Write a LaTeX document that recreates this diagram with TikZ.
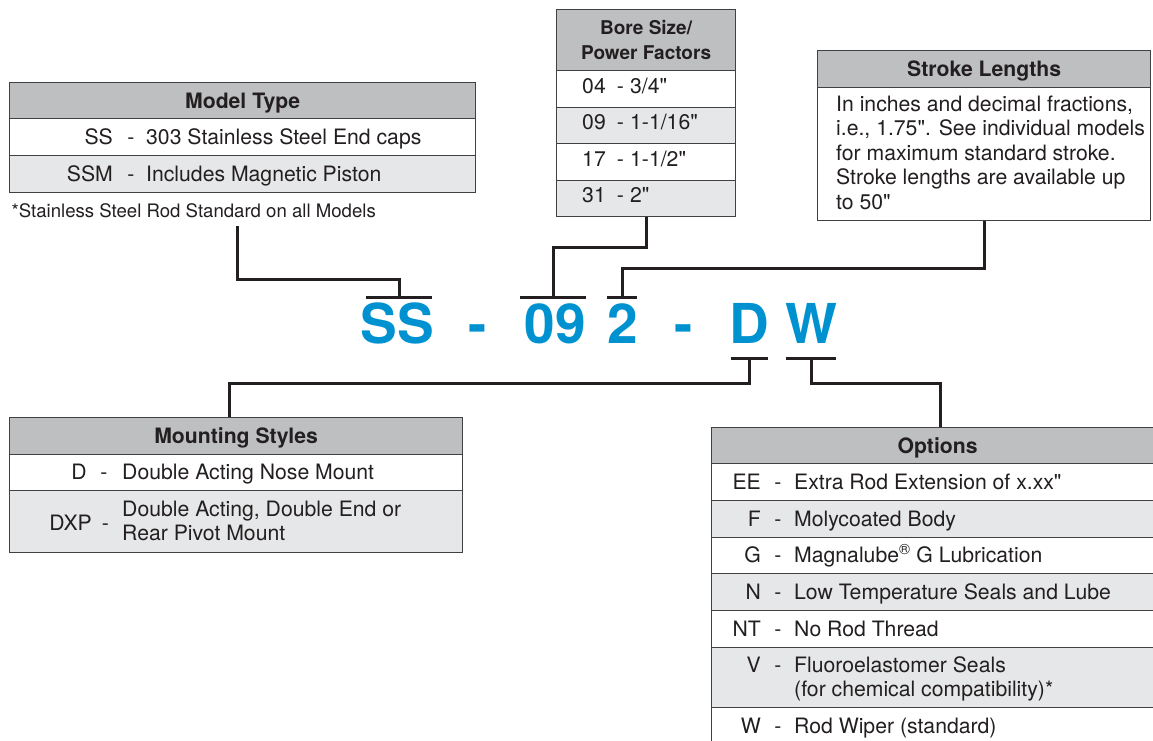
\documentclass[tikz,border=0pt]{standalone}
\usepackage{fontspec}
\setmainfont{TeX Gyre Heros}[Ligatures=TeXOff]
\usepackage{xcolor}
\usepackage{tikz}
\usetikzlibrary{positioning,calc}

\definecolor{hdrgray}{RGB}{190,191,193}
\definecolor{rowgray}{RGB}{230,231,232}
\definecolor{boxline}{RGB}{65,64,66}
\definecolor{ink}{RGB}{35,31,32}
\definecolor{linecol}{RGB}{35,31,32}
\definecolor{codeblue}{RGB}{0,146,208}

\newcommand{\bodyfont}{\fontsize{21.2}{24.5}\selectfont}
\newcommand{\notefont}{\fontsize{18.6}{22}\selectfont}
\newcommand{\borefont}{\fontsize{19}{24.5}\selectfont\bfseries}
\newcommand{\codefont}{\fontsize{55}{55}\selectfont\bfseries}

\begin{document}
\begin{tikzpicture}[
    x=1pt, y=-1pt,
    every node/.style={inner sep=0pt, text=ink, font=\bodyfont},
    hdr/.style={rectangle, draw=boxline, fill=hdrgray, line width=1.2pt, anchor=north west, font=\bodyfont\bfseries, text height=15.2pt, text depth=0pt},
    rowA/.style={rectangle, draw=boxline, fill=white, line width=1.2pt, anchor=north west},
    rowB/.style={rowA, fill=rowgray},
    desc/.style={anchor=base west},
    code/.style={anchor=base east},
    sep/.style={anchor=base},
    letter/.style={anchor=base, text=codeblue, font=\codefont},
    link/.style={draw=linecol, line width=3pt}
]
\useasboundingbox (0,0) rectangle (1153,740);

% Model type
\node[hdr, minimum width=466, minimum height=36] (model) at (9,82) {Model Type};
\node[rowA, minimum width=466, minimum height=37] (m1) at (9,118) {};
\node[rowB, minimum width=466, minimum height=37] (m2) at (9,155) {};
\node[code] (m1c) at (113,144) {SS};
\node[sep] (m1d) at (131,144) {-};
\node[desc] (m1t) at (146,144) {303 Stainless Steel End caps};
\node[code] (m2c) at (113,181) {SSM};
\node[sep] (m2d) at (131,181) {-};
\node[desc] (m2t) at (146,181) {Includes Magnetic Piston};
\node[anchor=base east, font=\notefont] (note) at (376,217) {*Stainless Steel Rod Standard on all Models};

% Bore size
\node[hdr, minimum width=179, minimum height=61, font=\borefont, align=center, text height=, text depth=] (bore) at (556,9) {Bore Size/\\Power Factors};
\node[rowA, minimum width=179, minimum height=36.5] (bo1) at (556,70) {};
\node[rowB, minimum width=179, minimum height=36.5] (bo2) at (556,106.5) {};
\node[rowA, minimum width=179, minimum height=36.5] (bo3) at (556,143) {};
\node[rowB, minimum width=179, minimum height=36.5] (bo4) at (556,179.5) {};
\node[code] (bo1c) at (606,93) {04};
\node[sep] (bo1d) at (620.5,93) {-};
\node[desc] (bo1t) at (630,93) {3/4"};
\node[code] (bo2c) at (606,129.5) {09};
\node[sep] (bo2d) at (620.5,129.5) {-};
\node[desc] (bo2t) at (630,129.5) {1-1/16"};
\node[code] (bo3c) at (606,166) {17};
\node[sep] (bo3d) at (620.5,166) {-};
\node[desc] (bo3t) at (630,166) {1-1/2"};
\node[code] (bo4c) at (606,202.5) {31};
\node[sep] (bo4d) at (620.5,202.5) {-};
\node[desc] (bo4t) at (630,202.5) {2"};

% Stroke lengths
\node[hdr, minimum width=333, minimum height=37] (strokehdr) at (817,50) {Stroke Lengths};
\node[rowA, minimum width=333, minimum height=133] (stroke) at (817,87) {};
\node[desc] (st1) at (836,111) {In inches and decimal fractions,};
\node[desc] (st2) at (836,135.6) {i.e., 1.75". See individual models};
\node[desc] (st3) at (836,160.2) {for maximum standard stroke.};
\node[desc] (st4) at (836,184.8) {Stroke lengths are available up};
\node[desc] (st5) at (836,209.4) {to 50"};

% Part number
\node[letter] (cSS) at (397.5,343) {SS};
\node[letter] (cd1) at (478,343) {-};
\node[letter] (c09) at (555,343) {09};
\node[letter] (c2) at (622.5,343) {2};
\node[letter] (cd2) at (684,343) {-};
\node[letter] (cD) at (749,343) {D};
\node[letter] (cW) at (811.5,343) {W};

\coordinate (barSS) at (399,297);
\coordinate (bar09) at (553,297);
\coordinate (bar2) at (622,297);
\coordinate (barD) at (749,358);
\coordinate (barW) at (811,358);
\coordinate (notelink) at (237,226);

% Mounting styles
\node[hdr, minimum width=453, minimum height=37] (mount) at (9,417) {Mounting Styles};
\node[rowA, minimum width=453, minimum height=36] (mo1) at (9,454) {};
\node[rowB, minimum width=453, minimum height=62] (mo2) at (9,490) {};
\node[code] (mo1c) at (87,479.5) {D};
\node[sep] (mo1d) at (104,479.5) {-};
\node[desc] (mo1t) at (122,479.5) {Double Acting Nose Mount};
\node[code] (mo2c) at (92,530) {DXP};
\node[sep] (mo2d) at (105.5,530) {-};
\node[desc] (mo2t) at (122,516) {Double Acting, Double End or};
\node[desc] (mo2u) at (122,540) {Rear Pivot Mount};

% Options
\node[hdr, minimum width=452, minimum height=36] (opts) at (711,427) {Options};
\node[rowA, minimum width=452, minimum height=37] (o1) at (711,463) {};
\node[rowB, minimum width=452, minimum height=37] (o2) at (711,500) {};
\node[rowA, minimum width=452, minimum height=36] (o3) at (711,537) {};
\node[rowB, minimum width=452, minimum height=37] (o4) at (711,573) {};
\node[rowA, minimum width=452, minimum height=37] (o5) at (711,610) {};
\node[rowB, minimum width=452, minimum height=60] (o6) at (711,647) {};
\node[rowA, minimum width=452, minimum height=53] (o7) at (711,707) {};
\node[code] (o1c) at (761,489.5) {EE};
\node[sep] (o1d) at (778,489.5) {-};
\node[desc] (o1t) at (794,489.5) {Extra Rod Extension of x.xx"};
\node[code] (o2c) at (761,526) {F};
\node[sep] (o2d) at (778,526) {-};
\node[desc] (o2t) at (794,526) {Molycoated Body};
\node[code] (o3c) at (761,562.5) {G};
\node[sep] (o3d) at (778,562.5) {-};
\node[desc] (o3t) at (794,562.5) {Magnalube\textsuperscript{\textregistered} G Lubrication};
\node[code] (o4c) at (761,599) {N};
\node[sep] (o4d) at (778,599) {-};
\node[desc] (o4t) at (794,599) {Low Temperature Seals and Lube};
\node[code] (o5c) at (761,636) {NT};
\node[sep] (o5d) at (778,636) {-};
\node[desc] (o5t) at (794,636) {No Rod Thread};
\node[code] (o6c) at (761,672) {V};
\node[sep] (o6d) at (778,672) {-};
\node[desc] (o6t) at (794,672) {Fluoroelastomer Seals};
\node[desc] (o6u) at (794,696) {(for chemical compatibility)*};
\node[code] (o7c) at (761,733) {W};
\node[sep] (o7d) at (778,733) {-};
\node[desc] (o7t) at (794,733) {Rod Wiper (standard)};

% Connectors
\draw[link] ([xshift=-33]barSS) -- ([xshift=33]barSS);
\draw[link] ([xshift=-33]bar09) -- ([xshift=33]bar09);
\draw[link] ([xshift=-15]bar2) -- ([xshift=15]bar2);
\draw[link] ([xshift=-18.5]barD) -- ([xshift=18.5]barD);
\draw[link] ([xshift=-25]barW) -- ([xshift=25]barW);

\draw[link] (notelink) |- ([yshift=18]barSS) -- (barSS);
\draw[link] (bo4.south) |- ([yshift=50]bar09) -- (bar09);
\draw[link] (stroke.south) |- ([yshift=29]bar2) -- (bar2);
\draw[link] (barD) -- ([yshift=-25]barD) -| ([xshift=-6.5]mount.north);
\draw[link] (barW) -- ([yshift=-25]barW) -| ([xshift=3]opts.north);

\end{tikzpicture}
\end{document}
